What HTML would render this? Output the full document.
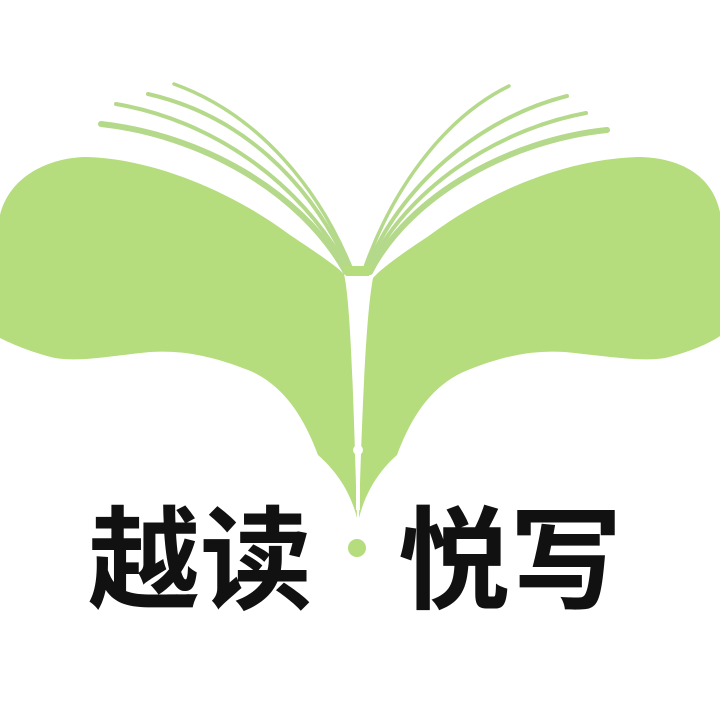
<!DOCTYPE html>
<html><head><meta charset="utf-8"><style>
html,body{margin:0;padding:0;background:#fff;width:720px;height:720px;overflow:hidden}
svg{display:block}
</style></head><body>
<svg width="720" height="720" viewBox="0 0 720 720">
<g>
<path d="M0,215 C10,175 50,158 85,157 C150,158 230,190 290,235 C320,255 336,266 344,274 C350,300 353,380 357,518 C350,490 335,470 318,455 C305,420 285,385 248,370 C210,355 180,350 150,352 C110,356 80,362 55,358 C30,352 10,343 0,338 Z" fill="#b5dc7d"/>
</g>
<g>
<path d="M720,212 C712,175 680,158 640,157 C570,158 490,190 430,235 C405,252 385,265 373,278 C367,310 363,380 359,518 C366,490 380,470 397,455 C410,420 430,385 468,370 C505,355 535,350 565,352 C605,356 640,362 665,358 C690,352 710,343 720,336 Z" fill="#b5dc7d"/>
</g>
<g fill="none" stroke="#b5d98a" stroke-linecap="round">
<path d="M101,124 C200,135 300,190 346,272" stroke-width="6"/>
<path d="M116,104 C210,120 300,180 348,270" stroke-width="4"/>
<path d="M148,94 C240,115 310,180 350,270" stroke-width="4"/>
<path d="M174,84 C260,115 320,190 352,270" stroke-width="3.5"/>
<path d="M607,130 C510,140 410,195 370,272" stroke-width="6"/>
<path d="M586,113 C495,130 405,190 368,270" stroke-width="4"/>
<path d="M567,96 C480,118 400,185 366,270" stroke-width="4"/>
<path d="M509,86 C440,120 390,195 364,270" stroke-width="3.5"/>
</g>
<path d="M342,266 L373,266 L369,276 L346,276 Z" fill="#b5dc7d"/>
<g>
<line x1="358" y1="290" x2="358" y2="510" stroke="#fff" stroke-width="4"/>
<circle cx="358" cy="450" r="5" fill="#fff"/>
</g>
<text x="88" y="600" font-family="'Liberation Sans','Noto Sans CJK SC',sans-serif" font-weight="bold" font-size="112" fill="#111">越读</text>
<circle cx="357" cy="548" r="9" fill="#b5dc7d"/>
<text x="398" y="600" font-family="'Liberation Sans','Noto Sans CJK SC',sans-serif" font-weight="bold" font-size="112" fill="#111">悦写</text>
</svg>
</body></html>
